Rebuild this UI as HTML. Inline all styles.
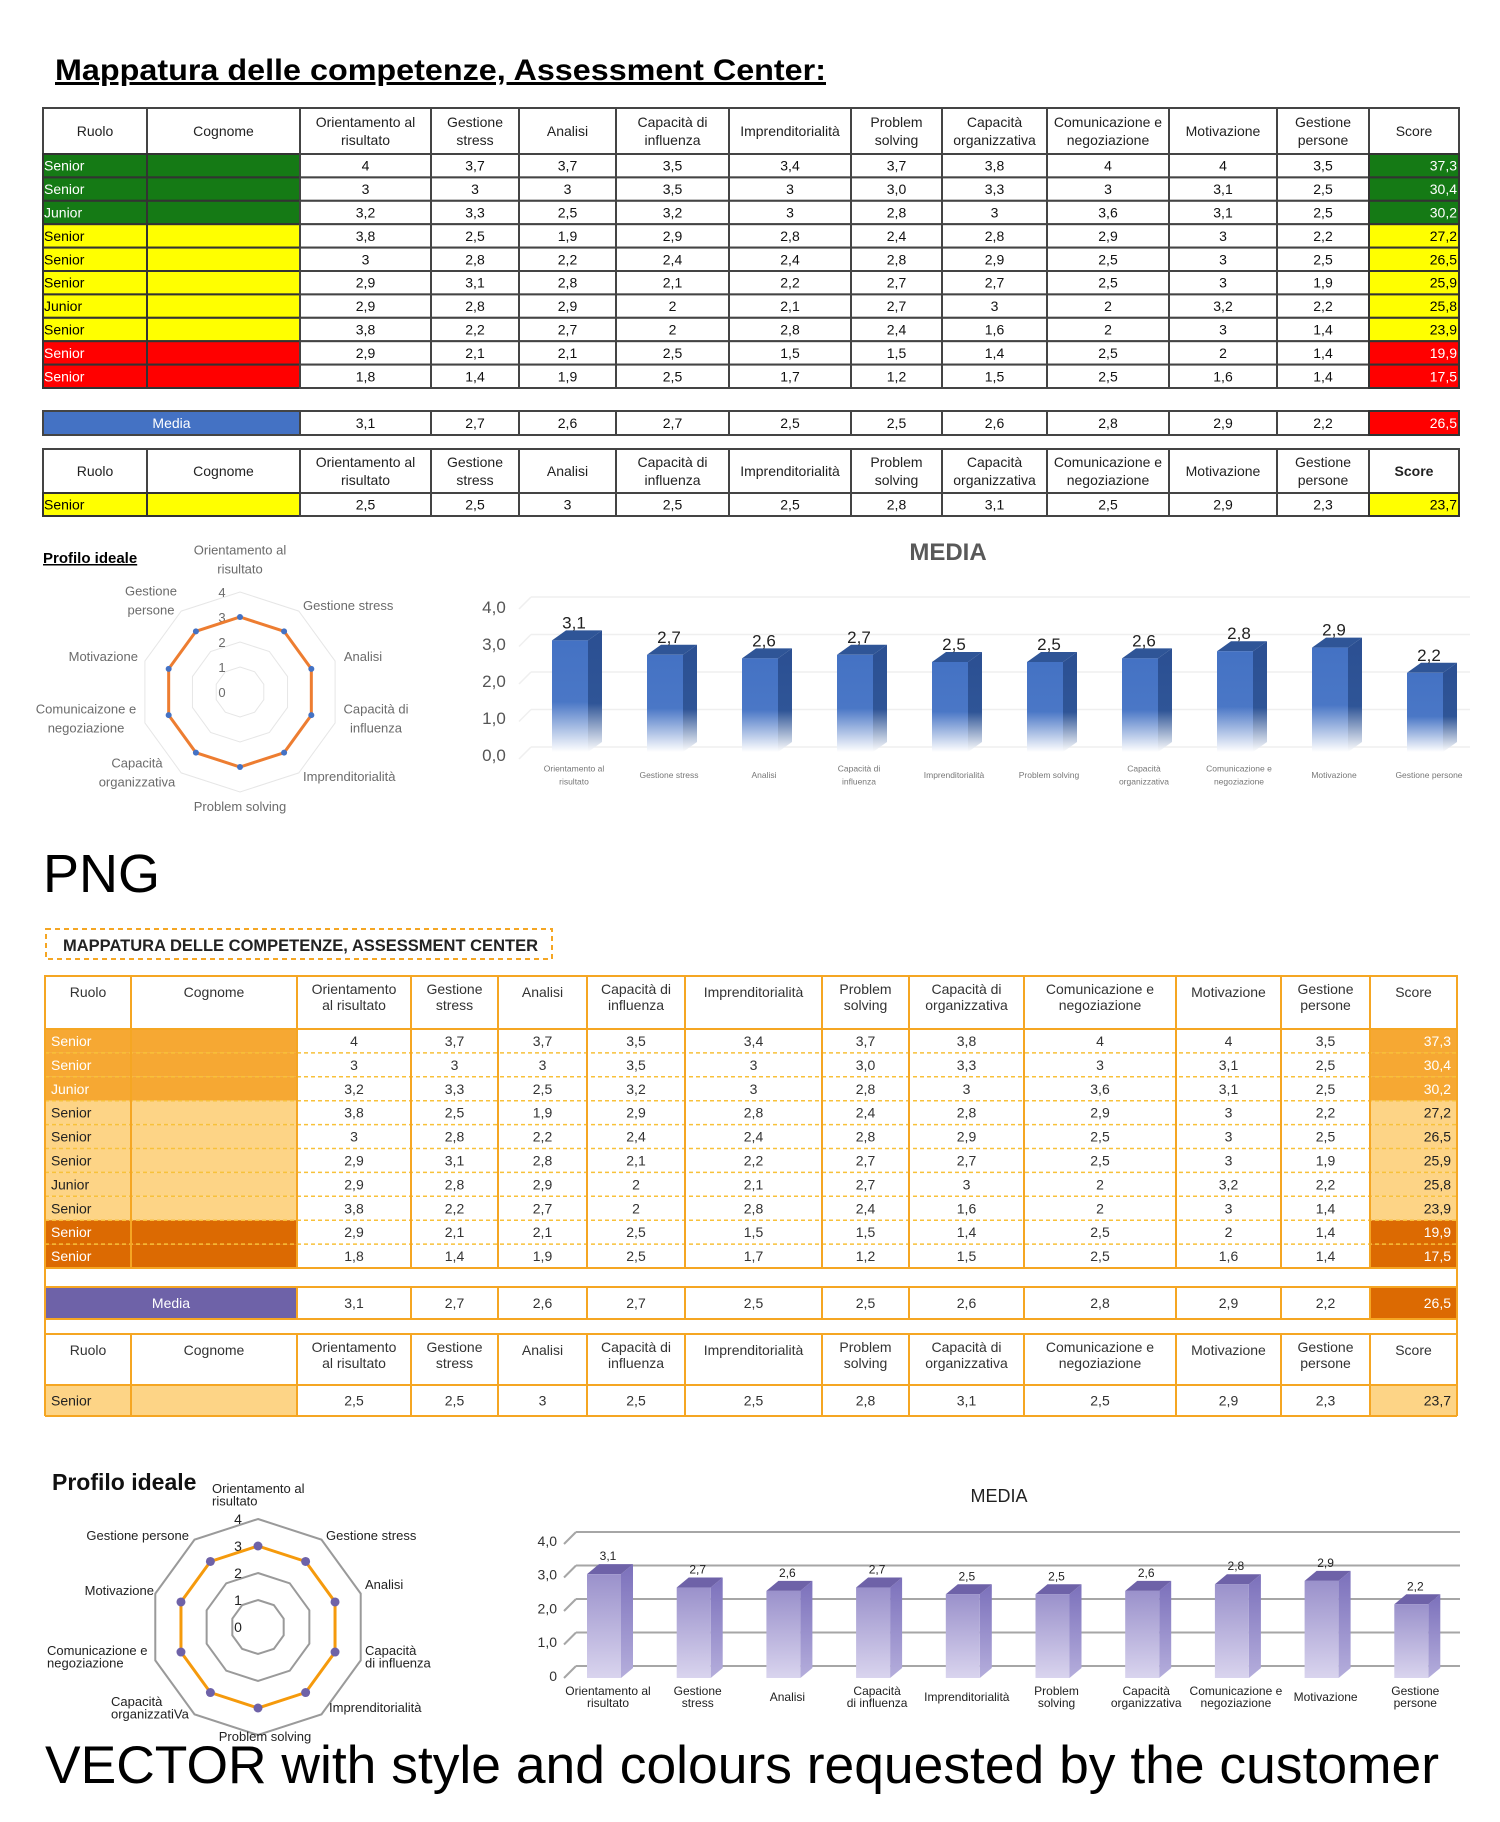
<!DOCTYPE html>
<html><head><meta charset="utf-8">
<style>
html,body{margin:0;padding:0;background:#fff;}
#root{position:relative;width:1500px;height:1822px;overflow:hidden;}
svg text{font-family:"Liberation Sans",sans-serif;}
</style></head>
<body>
<div id="root">
<svg id="svg" width="1500" height="1822" viewBox="0 0 1500 1822" xmlns="http://www.w3.org/2000/svg">
<defs>
<linearGradient id="g1" x1="0" y1="0" x2="0" y2="1">
<stop offset="0" stop-color="#4472c4"/><stop offset="0.55" stop-color="#4a77c6"/><stop offset="1" stop-color="#ffffff"/></linearGradient>
<linearGradient id="g1s" x1="0" y1="0" x2="0" y2="1">
<stop offset="0" stop-color="#2b4f92"/><stop offset="0.6" stop-color="#2f5597"/><stop offset="1" stop-color="#ffffff"/></linearGradient>
<linearGradient id="g2" x1="0" y1="0" x2="0" y2="1">
<stop offset="0" stop-color="#9a91cb"/><stop offset="1" stop-color="#d9d4ee"/></linearGradient>
<linearGradient id="g2s" x1="0" y1="0" x2="0" y2="1">
<stop offset="0" stop-color="#7b70bb"/><stop offset="1" stop-color="#b5aedc"/></linearGradient>
</defs>
<text x="55" y="80" font-size="30" font-weight="bold" text-decoration="underline" textLength="771" lengthAdjust="spacingAndGlyphs">Mappatura delle competenze, Assessment Center:</text>
<rect x="46" y="929" width="506" height="30" fill="none" stroke="#f5a623" stroke-width="2" stroke-dasharray="5,4"/>
<text x="63" y="951" font-size="17" font-weight="bold" fill="#222" textLength="475" lengthAdjust="spacingAndGlyphs">MAPPATURA DELLE COMPETENZE, ASSESSMENT CENTER</text>
<text x="43" y="892" font-size="54" fill="#000">PNG</text>
<text x="45" y="1783" font-size="53" fill="#000" textLength="1394" lengthAdjust="spacingAndGlyphs">VECTOR with style and colours requested by the customer</text>
<text x="43" y="563" font-size="15" font-weight="bold" text-decoration="underline">Profilo ideale</text>
<text x="52" y="1490" font-size="23" font-weight="bold" fill="#111">Profilo ideale</text>
<text x="948" y="560" font-size="24" font-weight="bold" fill="#595959" text-anchor="middle">MEDIA</text>
<text x="999" y="1502" font-size="18" fill="#222" text-anchor="middle">MEDIA</text>
</svg>
</div>
<script>
// ---- data ----
var headersTop = ["Ruolo","Cognome","Orientamento al|risultato","Gestione|stress","Analisi","Capacità di|influenza","Imprenditorialità","Problem|solving","Capacità|organizzativa","Comunicazione e|negoziazione","Motivazione","Gestione|persone","Score"];
var headersBottom = ["Ruolo","Cognome","Orientamento|al risultato","Gestione|stress","Analisi","Capacità di|influenza","Imprenditorialità","Problem|solving","Capacità di|organizzativa","Comunicazione e|negoziazione","Motivazione","Gestione|persone","Score"];
var roles = ["Senior","Senior","Junior","Senior","Senior","Senior","Junior","Senior","Senior","Senior"];
var tiers = [0,0,0,1,1,1,1,1,2,2];
var rowValues = [
["4","3,7","3,7","3,5","3,4","3,7","3,8","4","4","3,5"],
["3","3","3","3,5","3","3,0","3,3","3","3,1","2,5"],
["3,2","3,3","2,5","3,2","3","2,8","3","3,6","3,1","2,5"],
["3,8","2,5","1,9","2,9","2,8","2,4","2,8","2,9","3","2,2"],
["3","2,8","2,2","2,4","2,4","2,8","2,9","2,5","3","2,5"],
["2,9","3,1","2,8","2,1","2,2","2,7","2,7","2,5","3","1,9"],
["2,9","2,8","2,9","2","2,1","2,7","3","2","3,2","2,2"],
["3,8","2,2","2,7","2","2,8","2,4","1,6","2","3","1,4"],
["2,9","2,1","2,1","2,5","1,5","1,5","1,4","2,5","2","1,4"],
["1,8","1,4","1,9","2,5","1,7","1,2","1,5","2,5","1,6","1,4"]];
var scores = ["37,3","30,4","30,2","27,2","26,5","25,9","25,8","23,9","19,9","17,5"];
var mediaRow = ["3,1","2,7","2,6","2,7","2,5","2,5","2,6","2,8","2,9","2,2"];
var mediaScore = "26,5";
var idealRow = ["2,5","2,5","3","2,5","2,5","2,8","3,1","2,5","2,9","2,3"];
var idealScore = "23,7";

var barCategories1 = ["Orientamento al|risultato","Gestione stress","Analisi","Capacità di|influenza","Imprenditorialità","Problem solving","Capacità|organizzativa","Comunicazione e|negoziazione","Motivazione","Gestione persone"];
var barCategories2 = ["Orientamento al|risultato","Gestione|stress","Analisi","Capacità|di influenza","Imprenditorialità","Problem|solving","Capacità|organizzativa","Comunicazione e|negoziazione","Motivazione","Gestione|persone"];
var barValues = [3.1,2.7,2.6,2.7,2.5,2.5,2.6,2.8,2.9,2.2];
var barValueLabels = ["3,1","2,7","2,6","2,7","2,5","2,5","2,6","2,8","2,9","2,2"];
var yTicks = [0,1,2,3,4];
var yTickLabels1 = ["0,0","1,0","2,0","3,0","4,0"];
var yTickLabels2 = ["0","1,0","2,0","3,0","4,0"];
var radarLabels1 = ["Orientamento al|risultato","Gestione stress","Analisi","Capacità di|influenza","Imprenditorialità","Problem solving","Capacità|organizzativa","Comunicaizone e|negoziazione","Motivazione","Gestione|persone"];
var radarLabels2 = ["Orientamento al|risultato","Gestione stress","Analisi","Capacità|di influenza","Imprenditorialità","Problem solving","Capacità|organizzatiVa","Comunicazione e|negoziazione","Motivazione","Gestione persone"];
var radarValues = [3,3,3,3,3,3,3,3,3,3];
var radarTicks = [0,1,2,3,4];

var NS = "http://www.w3.org/2000/svg";
var svg = document.getElementById('svg');
function mk(tag, attrs, parent){var e=document.createElementNS(NS,tag);for(var k in attrs)e.setAttribute(k,attrs[k]);(parent||svg).appendChild(e);return e;}
function mtext(parent,x,y,str,size,fill,anchor,lh,weight,family){
  var t=mk('text',{x:x,y:y,'font-size':size,fill:fill,'text-anchor':anchor||'middle'},parent);
  if(weight)t.setAttribute('font-weight',weight);
  if(family)t.setAttribute('font-family',family);
  var parts=str.split('|');
  var y0=y-(parts.length-1)*lh/2;
  parts.forEach(function(p,i){var s=mk('tspan',{x:x,y:y0+i*lh},t);s.textContent=p;});
  return t;
}

// ===== TOP TABLE (Excel style) =====
(function(){
  var cols=[43,147,300,431,519,616,729,851,942,1047,1169,1277,1369,1459];
  var F='"Liberation Sans Narrow","Liberation Sans",sans-serif';
  var g=mk('g',{});
  
  
  var tierFill=['#157a15','#ffff00','#ff0000'];
  var tierText=['#fff','#000','#fff'];
  function header(y0,y1,boldScore){
    for(var c=0;c<13;c++){
      var r=mk('rect',{x:cols[c],y:y0,width:cols[c+1]-cols[c],height:y1-y0,fill:'#fff',stroke:'#444','stroke-width':2},g);
      
      
      var t=mtext(g,(cols[c]+cols[c+1])/2,(y0+y1)/2+5,headersTop[c],14,'#222','middle',18,(boldScore&&c==12)?'bold':null,F);
      
      
    }
  }
  function row(y0,y1,role,tier,vals,score,isMedia){
    var h=y1-y0;
    if(isMedia){
      var m=mk('rect',{x:cols[0],y:y0,width:cols[2]-cols[0],height:h,fill:'#4472c4',stroke:'#444','stroke-width':2},g);
      
      
      var mt=mtext(g,(cols[0]+cols[2])/2,y0+h/2+5,'Media',14,'#fff','middle',16,null,F);
      
      
    } else {
      for(var c=0;c<2;c++){
        var rr=mk('rect',{x:cols[c],y:y0,width:cols[c+1]-cols[c],height:h,fill:tierFill[tier],stroke:'#333','stroke-width':2},g);
        
        
      }
      var rt=mtext(g,cols[0]+1,y0+h/2+5,role,14,tierText[tier],'start',16,null,F);
      
      
    }
    for(var c2=0;c2<10;c2++){
      var x0=cols[c2+2],x1=cols[c2+3];
      var vc=mk('rect',{x:x0,y:y0,width:x1-x0,height:h,fill:'#fff',stroke:'#444','stroke-width':2},g);
      
      
      var vt=mtext(g,(x0+x1)/2,y0+h/2+5,vals[c2],14,'#111','middle',16,null,F);
      
      
    }
    var sc=mk('rect',{x:cols[12],y:y0,width:cols[13]-cols[12],height:h,fill:tierFill[tier],stroke:'#333','stroke-width':2},g);
    
    
    var st=mtext(g,cols[13]-2,y0+h/2+5,score,14,tierText[tier],'end',16,null,F);
    
    
  }
  header(108,154,false);
  var rh=(388-154)/10;
  for(var i=0;i<10;i++) row(154+i*rh,154+(i+1)*rh,roles[i],tiers[i],rowValues[i],scores[i],false);
  row(411,435,'',2,mediaRow,mediaScore,true);
  header(449,493,true);
  row(493,516,'Senior',1,idealRow,idealScore,false);
})();

// ===== BOTTOM TABLE (vector style) =====
(function(){
  var cols=[45,131,297,411,498,587,685,822,909,1024,1176,1281,1370,1457];
  var OR='#f5a623';
  var g=mk('g',{});
  
  
  var tierFill=['#f6a833','#fdd486','#dc6a02'];
  var tierText=['#fff','#222','#fff'];
  function header(y0,y1){
    for(var c=0;c<13;c++){
      var r=mk('rect',{x:cols[c],y:y0,width:cols[c+1]-cols[c],height:y1-y0,fill:'#fff',stroke:OR,'stroke-width':2},g);
      
      
      var two=headersBottom[c].indexOf('|')>=0;
      var t=mtext(g,(cols[c]+cols[c+1])/2,y0+(two?26:21),headersBottom[c],14,'#333','middle',16);
      
      
    }
  }
  function row(y0,y1,role,tier,vals,score,isMedia,dashTop){
    var h=y1-y0;
    if(isMedia){
      var m=mk('rect',{x:cols[0],y:y0,width:cols[2]-cols[0],height:h,fill:'#6e62a8'},g);
      
      
      var mt=mtext(g,(cols[0]+cols[2])/2,y0+h/2+5,'Media',14,'#fff','middle',16);
      
      
    } else {
      var rr=mk('rect',{x:cols[0],y:y0,width:cols[2]-cols[0],height:h,fill:tierFill[tier]},g);
      
      
      var rt=mtext(g,cols[0]+6,y0+h/2+5,role,14,tierText[tier],'start',16);
      
      
    }
    for(var c2=0;c2<10;c2++){
      var x0=cols[c2+2],x1=cols[c2+3];
      var vt=mtext(g,(x0+x1)/2,y0+h/2+5,vals[c2],14,'#333','middle',16);
      
      
    }
    var sc=mk('rect',{x:cols[12],y:y0,width:cols[13]-cols[12],height:h,fill:tierFill[tier]},g);
    
    
    var st=mtext(g,cols[13]-6,y0+h/2+5,score,14,tierText[tier],'end',16);
    
    
    if(dashTop){
      var dl=mk('line',{x1:cols[0],y1:y0,x2:cols[13],y2:y0,stroke:'#f8c13a','stroke-width':1.5,'stroke-dasharray':'4,3'},g);
      
      
    }
  }
  function vlines(y0,y1,skipFirst){
    for(var c=0;c<14;c++){
      if(c==1&&skipFirst)continue;
      var l=mk('line',{x1:cols[c],y1:y0,x2:cols[c],y2:y1,stroke:OR,'stroke-width':2},g);
      
      
    }
    var a=mk('line',{x1:cols[0],y1:y0,x2:cols[13],y2:y0,stroke:OR,'stroke-width':2},g);
    
    
    var b=mk('line',{x1:cols[0],y1:y1,x2:cols[13],y2:y1,stroke:OR,'stroke-width':2},g);
    
    
  }
  header(976,1029);
  var rh=(1268-1029)/10;
  for(var i=0;i<10;i++) row(1029+i*rh,1029+(i+1)*rh,roles[i],tiers[i],rowValues[i],scores[i],false,i>0);
  vlines(1029,1268,false);
  var sp=mk('rect',{x:cols[0],y:1268,width:cols[13]-cols[0],height:19,fill:'#fff',stroke:OR,'stroke-width':2},g);
  
  
  row(1287,1319,'',2,mediaRow,mediaScore,true,false);
  vlines(1287,1319,true);
  var sp2=mk('rect',{x:cols[0],y:1319,width:cols[13]-cols[0],height:15,fill:'#fff',stroke:OR,'stroke-width':2},g);
  
  
  header(1334,1385);
  row(1385,1416,'Senior',1,idealRow,idealScore,false,false);
  vlines(1385,1416,false);
})();

// ===== RADAR CHARTS =====
function radar(cx,cy,rMax,maxV,labels,labelPos,ringFill,ringStroke,ringW,rings,lineColor,dotColor,dotR,tickX,tickFont,labelFont,labelColor,lh,name){
  var g=mk('g',{});
  
  
  var n=labels.length;
  function pt(i,v){var a=-Math.PI/2+i*2*Math.PI/n;var r=v/maxV*rMax;return [cx+r*Math.cos(a),cy+r*Math.sin(a)];}
  rings.forEach(function(v){
    var pts=[];for(var i=0;i<n;i++)pts.push(pt(i,v).join(','));
    var p=mk('polygon',{points:pts.join(' '),fill:'none',stroke:ringStroke,'stroke-width':ringW},g);
    
    
  });
  radarTicks.forEach(function(v){
    var t=mtext(g,tickX,cy-v/maxV*rMax+5,String(v),tickFont,labelColor,'middle',14);
    
    
  });
  var pts=[];for(var i=0;i<n;i++)pts.push(pt(i,radarValues[i]).join(','));
  var line=mk('polygon',{points:pts.join(' '),fill:'none',stroke:lineColor,'stroke-width':3},g);
  
  
  for(var j=0;j<n;j++){
    var p=pt(j,radarValues[j]);
    var d=mk('circle',{cx:p[0],cy:p[1],r:dotR,fill:dotColor},g);
    
    
  }
  for(var k=0;k<n;k++){
    var lp=labelPos[k];
    var t2=mtext(g,lp[0],lp[1],labels[k],labelFont,labelColor,lp[2],lh);
    
    
  }
}
radar(240,692,100,4,radarLabels1,
 [[240,564,'middle'],[303,610,'start'],[363,661,'middle'],[376,723,'middle'],[303,781,'start'],[240,811,'middle'],[137,777,'middle'],[86,723,'middle'],[138,661,'end'],[151,605,'middle']],
 'none','#e6e6e6',1,[1,2,3,4],'#ed7d31','#4472c4',3,222,13,13,'#6b6b6b',19,'radar-chart-png');
radar(258,1627,108,4,radarLabels2,
 [[212,1499,'start'],[326,1540,'start'],[365,1589,'start'],[365,1661,'start'],[329,1712,'start'],[265,1741,'middle'],[111,1712,'start'],[47,1661,'start'],[154,1595,'end'],[189,1540,'end']],
 'none','#9a9a9a',2,[1,2,4],'#f59a0c','#6e62a8',4.5,238,14,13,'#222',12.5,'radar-chart-vector');

// ===== BAR CHARTS =====
function barChart(cfg){
  var g=mk('g',{});
  
  
  function yBar(v){return cfg.base-v*cfg.unit;}
  function yGrid(v){return cfg.gridBase-v*cfg.gridUnit;}
  function yLab(v){return cfg.labBase-v*cfg.labUnit;}
  function xc(i){return cfg.x0+i*cfg.step;}
  yTicks.forEach(function(v,i){
    var l=mk('line',{x1:cfg.gx0,y1:yGrid(v),x2:cfg.gx1,y2:yGrid(v),stroke:cfg.gridColor,'stroke-width':cfg.gridW},g);
    
    
    var dl=mk('line',{x1:cfg.gx0,y1:yGrid(v),x2:cfg.gx0-12,y2:yGrid(v)+12,stroke:cfg.gridColor,'stroke-width':cfg.gridW},g);
    
    
    var t=mtext(g,cfg.labX,yLab(v)+6,cfg.tickLabels[i],cfg.tickFont,cfg.tickColor,cfg.tickAnchor,14);
    
    
  });
  barValues.forEach(function(v,i){
    var x=xc(i)-cfg.w/2, top=yBar(v), w=cfg.w, dx=cfg.dx, dy=cfg.dy;
    var side=mk('polygon',{points:[x+w,top,x+w+dx,top-dy,x+w+dx,cfg.base-dy,x+w,cfg.base].join(','),fill:cfg.sideFill},g);
    
    
    var tp=mk('polygon',{points:[x,top,x+dx,top-dy,x+w+dx,top-dy,x+w,top].join(','),fill:cfg.topFill},g);
    
    
    var fr=mk('rect',{x:x,y:top,width:w,height:cfg.base-top,fill:cfg.frontFill},g);
    
    
    var vl=mtext(g,xc(i)+4,top-cfg.valOff,barValueLabels[i],cfg.valFont,'#222','middle',14);
    
    
    var cl=mtext(g,xc(i)+4,cfg.catY,cfg.cats[i],cfg.catFont,cfg.catColor,'middle',cfg.catLh);
    
    
  });
}
barChart({name:'bar-chart-png',base:752,unit:36,gridBase:747,gridUnit:37.5,labBase:755,labUnit:37,x0:570,step:95,w:36,dx:14,dy:10,
  gx0:531,gx1:1470,gridColor:'#efefef',gridW:1.5,labX:494,tickFont:17,tickColor:'#555',tickAnchor:'middle',tickLabels:yTickLabels1,
  frontFill:'url(#g1)',sideFill:'url(#g1s)',topFill:'#2f5597',valOff:12,valFont:17,cats:barCategories1,catY:778,catFont:8.5,catColor:'#777',catLh:13});
barChart({name:'bar-chart-vector',base:1678,unit:33.5,gridBase:1666,gridUnit:33.5,labBase:1675,labUnit:33.8,x0:604,step:89.7,w:34,dx:12,dy:10,
  gx0:576,gx1:1460,gridColor:'#a6a6a6',gridW:2,labX:557,tickFont:14,tickColor:'#333',tickAnchor:'end',tickLabels:yTickLabels2,
  frontFill:'url(#g2)',sideFill:'url(#g2s)',topFill:'#6e62a8',valOff:14,valFont:12,cats:barCategories2,catY:1701,catFont:12,catColor:'#222',catLh:12});
</script>
</body></html>
